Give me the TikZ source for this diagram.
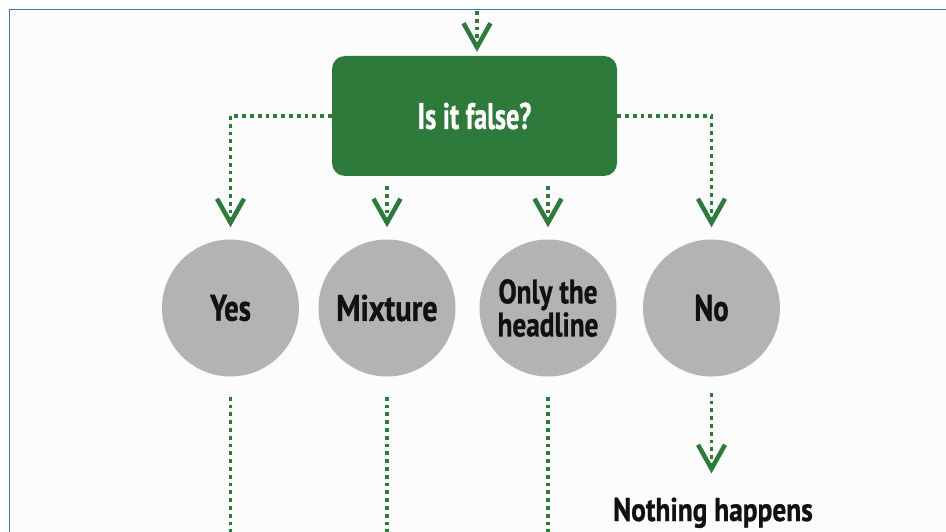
\documentclass[tikz,border=0pt]{standalone}
\usepackage{fontspec}
\newfontfamily\condfont{PT Sans}[FakeStretch=0.78,FakeBold=0.8]
\newfontfamily\condnarrow{PT Sans}[FakeStretch=0.71,FakeBold=0.8]
\newfontfamily\condwide{PT Sans}[FakeStretch=0.82,FakeBold=0.8]
\newfontfamily\condonly{PT Sans}[FakeStretch=0.80,FakeBold=0.8]
\newfontfamily\condres{PT Sans}[FakeStretch=0.83,FakeBold=0.8]
\usetikzlibrary{arrows.meta,positioning}
\definecolor{dgreen}{HTML}{2E7A3B}
\definecolor{cgray}{HTML}{B3B3B3}
\definecolor{frameblue}{HTML}{3C78C0}
\definecolor{txt}{HTML}{111111}
\tikzset{
  flow/.style={draw=dgreen, line width=3.8pt, dash pattern=on 3.8pt off 4pt,
    -{Straight Barb[length=24pt,width=27pt,line width=4.5pt,sharp]}},
  flowline/.style={draw=dgreen, line width=3.8pt, dash pattern=on 3.8pt off 4pt},
  answer/.style={circle, fill=cgray, minimum size=137pt, inner sep=0pt,
    font=\condfont\bfseries\fontsize{37}{37}\selectfont, text=txt, align=center},
  question/.style={rectangle, rounded corners=13pt, fill=dgreen, minimum width=285pt,
    minimum height=120pt, font=\condnarrow\bfseries\fontsize{37}{37}\selectfont, text=white},
  result/.style={font=\condres\bfseries\fontsize{33}{33}\selectfont, text=txt, inner sep=0pt}
}
\begin{document}
\begin{tikzpicture}[x=1pt,y=-1pt]
\useasboundingbox (0,0) rectangle (946,532);
\fill[white!99!black] (9.5,9.5) rectangle (946,532);
\draw[frameblue, line width=1.5pt] (9.5,532) -- (9.5,9.5) -- (946,9.5);
\node[question] (q) at (474.5,116) {Is it false?};
\node[answer] (yes) at (230.5,308) {\raisebox{-3pt}{Yes}};
\node[answer, font=\condwide\bfseries\fontsize{37}{37}\selectfont] (mix) at (387,308) {Mixture};
\node[answer, font=\condonly\bfseries\fontsize{34}{33}\selectfont] (only) at (548,308) {Only the\\headline};
\node[answer] (no) at (711.5,308) {\raisebox{-3pt}{No}};
\node[result, anchor=base] (nothing) at (713,521) {Nothing happens};
\coordinate (top) at (477,11);
\coordinate (yesend) at (230.5,540);
\coordinate (mixend) at (387,540);
\coordinate (onlyend) at (548,540);
\draw[flow, shorten >=4pt] (top) -- (top |- q.north) ;
\draw[flow, shorten >=12pt] (q.west) -| (yes.north);
\draw[flow, shorten >=12pt] (q.east) -| (no.north);
\draw[flow, shorten <=10pt, shorten >=12pt] (q.south -| mix) -- (mix.north);
\draw[flow, shorten <=10pt, shorten >=12pt] (q.south -| only) -- (only.north);
\draw[flowline, shorten <=20pt] (yes.south) -- (yesend);
\draw[flowline, shorten <=20pt] (mix.south) -- (mixend);
\draw[flowline, shorten <=20pt] (only.south) -- (onlyend);
\draw[flow, shorten <=16pt, shorten >=24pt] (no.south) -- (no.south |- nothing.north);
\end{tikzpicture}
\end{document}
